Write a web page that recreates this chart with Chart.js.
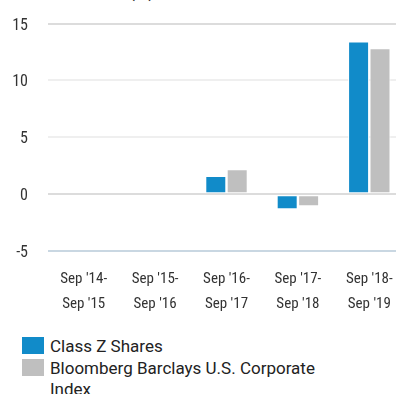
<!DOCTYPE html>
<html>
<head>
<meta charset="utf-8">
<script src="https://cdn.jsdelivr.net/npm/chart.js@4.4.1/dist/chart.umd.min.js"></script>
<style>
  html,body{margin:0;padding:0;background:#fff;overflow:hidden;width:396px;height:394px}
  #wrap{position:relative;width:396px;height:394px;overflow:hidden}
  #title{position:absolute;left:0;top:-20px;font:bold 18px Roboto,sans-serif;color:#222;margin:0;white-space:nowrap}
  #canvas-returns{position:absolute;left:0;top:-6px}
  #legend{position:absolute;left:22px;top:336px;font-family:Roboto,sans-serif;font-size:17px;color:#222}
  .item{display:flex;align-items:flex-start;margin-bottom:1px}
  .swatch{width:22px;height:17px;margin-top:1px;margin-right:6px;flex:none}
  .txt{line-height:21px;max-width:290px}
</style>
</head>
<body>
<div id="wrap">
  <div id="title">Annual Returns (%)</div>
  <canvas id="canvas-returns" width="410" height="338"></canvas>
  <div id="legend"></div>
</div>
<script>
const periods=[["Sep '14-","Sep '15"],["Sep '15-","Sep '16"],["Sep '16-","Sep '17"],["Sep '17-","Sep '18"],["Sep '18-","Sep '19"]]
const seriesNames=["Class Z Shares","Bloomberg Barclays U.S. Corporate Index"]
const classZ=[null,null,1.59,-1.32,13.42]
const corpIndex=[null,null,2.18,-1.06,12.83]
const yTicks=[-5,0,5,10,15]

const colors=['#118bc9','#bfbfbf']
const condensed="'Roboto Condensed','DejaVu Sans Condensed',Roboto,sans-serif"

// gridline colour per tick value
const gridColor=ctx=>{
  const v=ctx.tick ? ctx.tick.value : null
  if(v==-5) return '#c9d7e2'
  if(v==0 || v==15) return '#dcdcdc'
  return '#efefef'
}

const canvas=document.querySelector("#canvas-returns")
const chartReturns=new Chart(canvas,{
  type:'bar',
  data:{
    labels:periods,
    datasets:[{
      label:seriesNames[0],
      data:classZ,
      backgroundColor:colors[0],
      borderColor:'#ffffff',
      borderWidth:1,
      borderSkipped:false
    },{
      label:seriesNames[1],
      data:corpIndex,
      backgroundColor:colors[1],
      borderColor:'#ffffff',
      borderWidth:1,
      borderSkipped:false
    }]
  },
  options:{
    responsive:false,
    animation:false,
    layout:{padding:{top:19,right:5,left:0,bottom:0}},
    datasets:{bar:{categoryPercentage:0.6,barPercentage:0.98}},
    plugins:{
      legend:{display:false},
      title:{display:false},
      tooltip:{enabled:false}
    },
    scales:{
      x:{
        grid:{display:false,drawTicks:false},
        border:{display:false},
        ticks:{
          color:'#333',
          padding:15,
          maxRotation:0,
          autoSkip:false,
          font:{family:condensed,size:15,lineHeight:1.7}
        }
      },
      y:{
        min:-5,
        max:15,
        afterFit:scale=>{scale.width=48},
        afterBuildTicks:scale=>{scale.ticks=yTicks.map(v=>({value:v}))},
        grid:{color:gridColor,lineWidth:2,drawTicks:false},
        border:{display:false},
        ticks:{
          color:'#333',
          padding:20,
          labelOffset:2,
          font:{family:condensed,size:16}
        }
      }
    }
  }
})

// legend built from the chart datasets so the long name can wrap
const legend=document.querySelector("#legend")
chartReturns.data.datasets.forEach(ds=>{
  const item=document.createElement("div")
  item.className="item"
  item.innerHTML=`<div class="swatch" style="background:${ds.backgroundColor}"></div><div class="txt">${ds.label}</div>`
  legend.appendChild(item)
})
</script>
</body>
</html>
